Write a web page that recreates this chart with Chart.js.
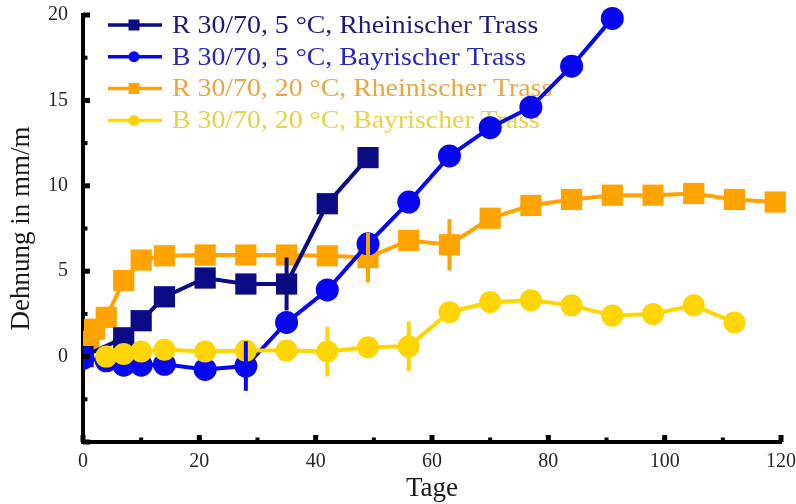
<!DOCTYPE html>
<html>
<head>
<meta charset="utf-8">
<script src="https://cdn.jsdelivr.net/npm/chart.js@4"></script>
<style>
  html, body { margin: 0; padding: 0; background: #fff; }
  #wrap { width: 796px; height: 504px; }
</style>
</head>
<body>
<div id="wrap"><canvas id="c" width="796" height="504"></canvas></div>
<script>
// Expansion (Dehnung) over time in days, four mixes
const daysR5 = [0, 7, 10, 14, 21, 28, 35, 42, 49];
const valsR5 = [0, 1.1, 2.1, 3.5, 4.6, 4.25, 4.25, 8.95, 11.65];

const daysB5 = [0, 4, 7, 10, 14, 21, 28, 35, 42, 49, 56, 63, 70, 77, 84, 91];
const valsB5 = [-0.1, -0.25, -0.5, -0.5, -0.45, -0.75, -0.55, 2.0, 3.9, 6.6, 9.05, 11.75, 13.4, 14.6, 17.0, 19.8];

const daysR20 = [1, 2, 4, 7, 10, 14, 21, 28, 35, 42, 49, 56, 63, 70, 77, 84, 91, 98, 105, 112, 119];
const valsR20 = [0.9, 1.6, 2.3, 4.45, 5.65, 5.9, 5.95, 5.95, 5.95, 5.9, 5.8, 6.8, 6.55, 8.1, 8.85, 9.2, 9.45, 9.45, 9.55, 9.2, 9.05];

const daysB20 = [4, 7, 10, 14, 21, 28, 35, 42, 49, 56, 63, 70, 77, 84, 91, 98, 105, 112];
const valsB20 = [0.0, 0.15, 0.3, 0.4, 0.3, 0.35, 0.35, 0.3, 0.55, 0.6, 2.6, 3.2, 3.3, 3.0, 2.4, 2.5, 3.0, 2.0];

// Scatter (± value) at selected days: [day, error]
const errR5 = [[35, 1.55]];
const errB5 = [[28, 1.45]];
const errR20 = [[49, 1.45], [63, 1.5]];
const errB20 = [[42, 1.45], [56, 1.45]];

// Axis ticks
const xTicks = [0, 20, 40, 60, 80, 100, 120];
const yTicks = [-5, 0, 5, 10, 15, 20];

const labels = [
  'R 30/70, 5 \u00B0C, Rheinischer Trass',
  'B 30/70, 5 \u00B0C, Bayrischer Trass',
  'R 30/70, 20 \u00B0C, Rheinischer Trass',
  'B 30/70, 20 \u00B0C, Bayrischer Trass'
];

const FONT = '"Liberation Serif", "Times New Roman", serif';
const C_NAVY = '#0b0b86';
const C_BLUE = '#0606f2';
const C_ORANGE = '#ffa300';
const C_YELLOW = '#ffd500';
const TEXT_COLORS = ['#1c1c78', '#2828b8', '#e9a640', '#e6d245'];

function pts(days, vals) {
  return days.map((d, i) => ({ x: d, y: vals[i] }));
}

function series(label, days, vals, color, style, radius, order, errs, textColor) {
  return {
    label,
    data: pts(days, vals),
    borderColor: color,
    backgroundColor: color,
    pointBackgroundColor: color,
    pointBorderWidth: 0,
    pointStyle: style,
    pointRadius: radius,
    borderWidth: 4,
    tension: 0,
    fill: false,
    order,
    clip: { left: 0, top: false, right: false, bottom: false },
    errs,
    textColor
  };
}

const datasets = [
  series(labels[0], daysR5, valsR5, C_NAVY, 'rect', 15, 3, errR5, TEXT_COLORS[0]),
  series(labels[1], daysB5, valsB5, C_BLUE, 'circle', 11.5, 2, errB5, TEXT_COLORS[1]),
  series(labels[2], daysR20, valsR20, C_ORANGE, 'rect', 15, 4, errR20, TEXT_COLORS[2]),
  series(labels[3], daysB20, valsB20, C_YELLOW, 'circle', 11, 1, errB20, TEXT_COLORS[3])
];

// Legend drawn inside the plot area, underneath the data lines
const legendInside = {
  id: 'legendInside',
  beforeDatasetsDraw(chart) {
    const ctx = chart.ctx;
    const x0 = 108, x1 = 162, xm = 134, xt = 172;
    const rows = [25, 56.7, 88.5, 120.5];
    ctx.save();
    chart.data.datasets.forEach((ds, i) => {
      const y = rows[i];
      ctx.strokeStyle = ds.borderColor;
      ctx.lineWidth = 3.5;
      ctx.beginPath();
      ctx.moveTo(x0, y);
      ctx.lineTo(x1, y);
      ctx.stroke();
      ctx.fillStyle = ds.borderColor;
      if (ds.pointStyle === 'rect') {
        ctx.fillRect(xm - 5.5, y - 5.5, 11, 11);
      } else {
        ctx.beginPath();
        ctx.arc(xm, y, 5.5, 0, Math.PI * 2);
        ctx.fill();
      }
      // slightly widened serif text
      ctx.save();
      ctx.translate(xt, y + 1);
      ctx.scale(1.07, 1);
      ctx.fillStyle = ds.textColor;
      ctx.font = '26px ' + FONT;
      ctx.textAlign = 'left';
      ctx.textBaseline = 'middle';
      ctx.fillText(ds.label, 0, 0);
      ctx.restore();
    });
    ctx.restore();
  }
};

// Vertical scatter bars, drawn on top of all series
const errorBars = {
  id: 'errorBars',
  afterDatasetsDraw(chart) {
    const ctx = chart.ctx;
    const xs = chart.scales.x, ys = chart.scales.y;
    ctx.save();
    chart.data.datasets.forEach(ds => {
      ctx.strokeStyle = ds.borderColor;
      ctx.lineWidth = 4;
      (ds.errs || []).forEach(([day, e]) => {
        const p = ds.data.find(q => q.x === day);
        if (!p) return;
        const px = xs.getPixelForValue(day);
        ctx.beginPath();
        ctx.moveTo(px, ys.getPixelForValue(p.y + e));
        ctx.lineTo(px, ys.getPixelForValue(p.y - e));
        ctx.stroke();
      });
    });
    ctx.restore();
  }
};

// Short inward tick marks (major and minor) on both axes
const innerTicks = {
  id: 'innerTicks',
  afterDraw(chart) {
    const ctx = chart.ctx;
    const xs = chart.scales.x, ys = chart.scales.y;
    const area = chart.chartArea;
    ctx.save();
    ctx.fillStyle = '#000';
    const xMajor = xs.ticks.map(t => t.value);
    xMajor.forEach((v, i) => {
      const px = xs.getPixelForValue(v);
      ctx.fillRect(px - 2.5, area.bottom - 7, 5, 7);
      if (i < xMajor.length - 1) {
        const pm = xs.getPixelForValue((v + xMajor[i + 1]) / 2);
        ctx.fillRect(pm - 2, area.bottom - 4.5, 4, 4.5);
      }
    });
    const yMajor = ys.ticks.map(t => t.value);
    yMajor.forEach((v, i) => {
      const py = ys.getPixelForValue(v);
      ctx.fillRect(area.left, py - 2.5, 7, 5);
      if (i < yMajor.length - 1) {
        const pm = ys.getPixelForValue((v + yMajor[i + 1]) / 2);
        ctx.fillRect(area.left, pm - 2, 4.5, 4);
      }
    });
    ctx.restore();
  }
};

function noPad(s) {
  s.paddingLeft = 0; s.paddingRight = 0; s.paddingTop = 0; s.paddingBottom = 0;
}

new Chart(document.getElementById('c'), {
  type: 'line',
  data: { datasets },
  options: {
    responsive: false,
    animation: false,
    events: [],
    layout: { padding: { top: 15, right: 14, bottom: 0, left: 0 } },
    plugins: { legend: { display: false }, tooltip: { enabled: false } },
    scales: {
      x: {
        type: 'linear',
        min: xTicks[0],
        max: xTicks[xTicks.length - 1],
        z: 1,
        afterFit(s) { s.height = 62; noPad(s); },
        afterBuildTicks(s) { s.ticks = xTicks.map(v => ({ value: v })); },
        ticks: {
          font: { family: FONT, size: 20 },
          color: '#262626',
          padding: 8,
          maxRotation: 0,
          autoSkip: false
        },
        grid: { display: true, drawOnChartArea: false, drawTicks: false },
        border: { display: true, width: 4, color: '#000' },
        title: {
          display: true,
          text: 'Tage',
          font: { family: FONT, size: 27, lineHeight: 1.1 },
          color: '#1a1a1a',
          padding: { top: 0, bottom: 0 }
        }
      },
      y: {
        type: 'linear',
        min: yTicks[0],
        max: yTicks[yTicks.length - 1],
        z: 1,
        afterFit(s) { s.width = 83; noPad(s); },
        afterBuildTicks(s) { s.ticks = yTicks.map(v => ({ value: v })); },
        ticks: {
          font: { family: FONT, size: 20 },
          color: '#262626',
          padding: 15,
          autoSkip: false,
          callback: v => (v === yTicks[0] ? '' : String(v))
        },
        grid: { display: true, drawOnChartArea: false, drawTicks: false },
        border: { display: true, width: 4, color: '#000' },
        title: {
          display: true,
          text: 'Dehnung in mm/m',
          font: { family: FONT, size: 27, lineHeight: 1.2 },
          color: '#1a1a1a',
          padding: { top: 6, bottom: 0 }
        }
      }
    }
  },
  plugins: [legendInside, errorBars, innerTicks]
});
</script>
</body>
</html>
